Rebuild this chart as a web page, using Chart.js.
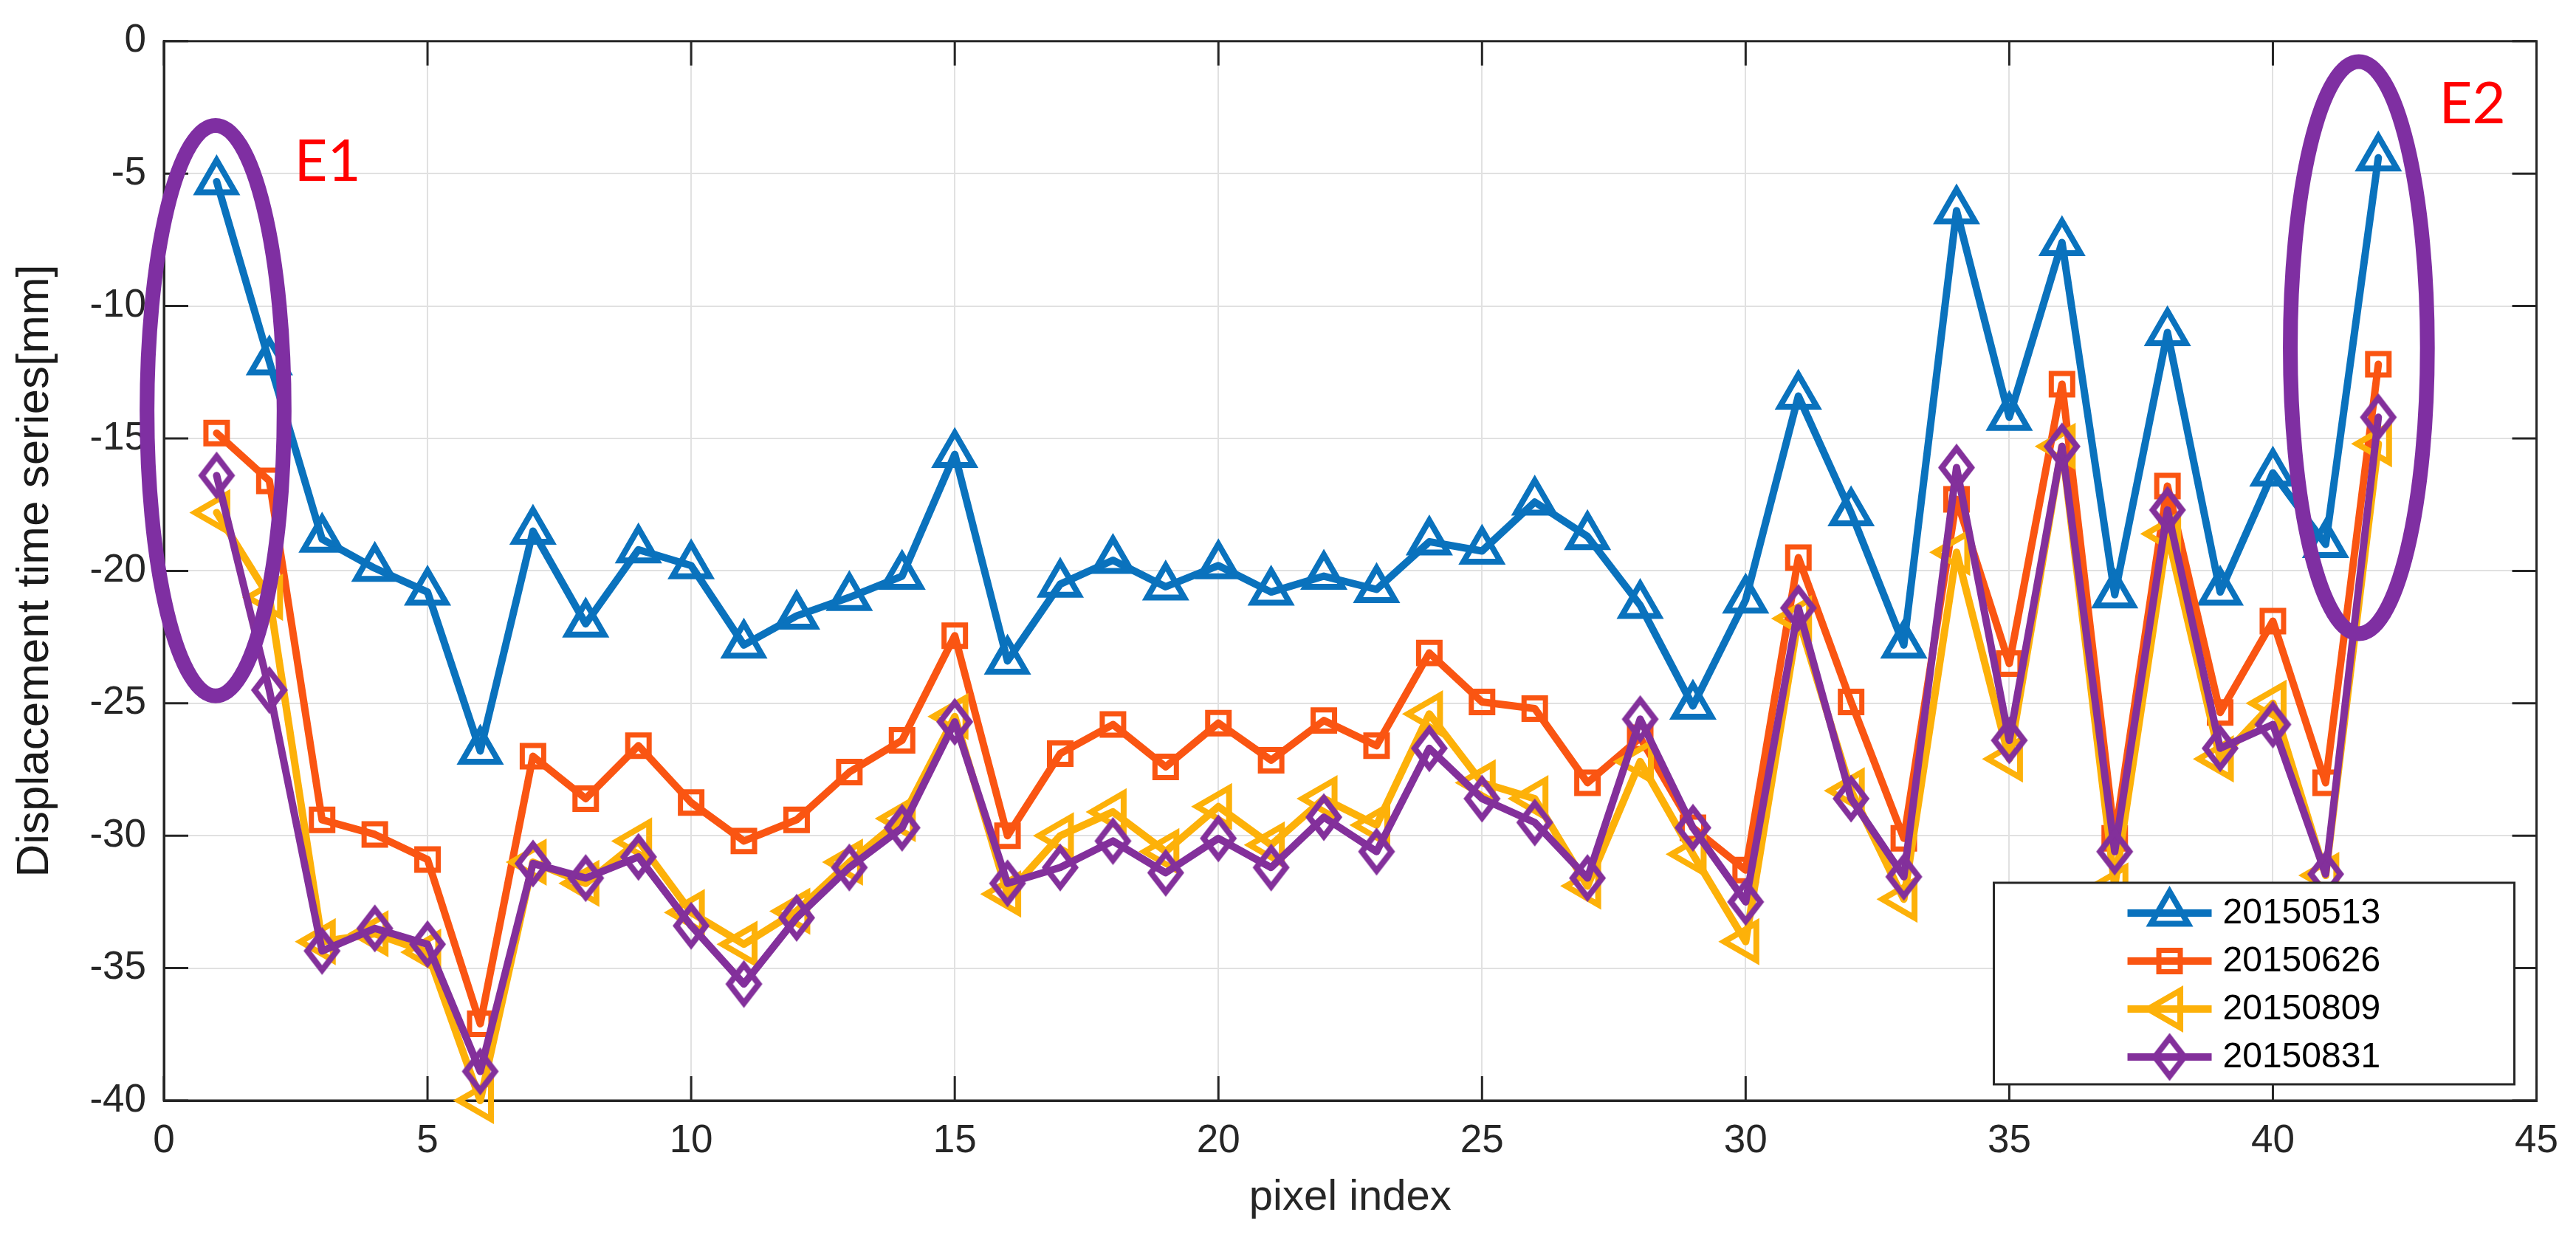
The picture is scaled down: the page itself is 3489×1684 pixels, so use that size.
<!DOCTYPE html>
<html>
<head>
<meta charset="utf-8">
<script src="https://cdn.jsdelivr.net/npm/chart.js@4.4.1/dist/chart.umd.min.js"></script>
<style>
html,body{margin:0;padding:0;background:#ffffff;overflow:hidden}
#wrap{width:3489px;height:1684px;position:relative;background:#ffffff}
</style>
</head>
<body>
<div id="wrap"><canvas id="c" width="3489" height="1684"></canvas></div>
<script>
// ---------------- data ----------------
const pixelIndex = [1,2,3,4,5,6,7,8,9,10,11,12,13,14,15,16,17,18,19,20,21,22,23,24,25,26,27,28,29,30,31,32,33,34,35,36,37,38,39,40,41,42];
const seriesNames = ['20150513','20150626','20150809','20150831'];
const s20150513 = [-5.3,-12.1,-18.8,-19.9,-20.8,-26.8,-18.5,-22.0,-19.2,-19.8,-22.8,-21.7,-21.0,-20.2,-15.6,-23.4,-20.5,-19.6,-20.6,-19.8,-20.8,-20.2,-20.7,-18.9,-19.25,-17.4,-18.7,-21.3,-25.1,-21.1,-13.4,-17.8,-22.8,-6.4,-14.2,-7.6,-20.9,-11.0,-20.8,-16.3,-19.0,-4.4];
const s20150626 = [-14.8,-16.6,-29.4,-29.95,-30.9,-37.1,-27.0,-28.6,-26.6,-28.75,-30.2,-29.4,-27.6,-26.4,-22.45,-30.0,-26.9,-25.8,-27.4,-25.75,-27.15,-25.65,-26.6,-23.1,-24.95,-25.2,-28.0,-26.3,-29.7,-31.3,-19.5,-24.95,-30.1,-17.3,-23.5,-12.95,-30.1,-16.8,-25.35,-21.9,-28.0,-12.2];
const s20150809 = [-17.8,-21.0,-34.0,-33.7,-34.4,-40.0,-31.0,-31.8,-30.2,-32.9,-34.1,-32.85,-31.0,-29.35,-25.5,-32.2,-30.0,-29.1,-30.6,-28.9,-30.35,-28.6,-29.6,-25.4,-28.0,-28.6,-31.9,-27.2,-30.7,-34.0,-21.8,-28.3,-32.4,-19.3,-27.1,-15.3,-31.9,-18.6,-27.1,-25.0,-31.5,-15.2];
const s20150831 = [-16.4,-24.5,-34.35,-33.5,-34.1,-38.9,-31.05,-31.6,-30.8,-33.4,-35.6,-33.1,-31.2,-29.7,-25.7,-31.8,-31.2,-30.2,-31.4,-30.1,-31.2,-29.3,-30.6,-26.7,-28.6,-29.5,-31.6,-25.6,-29.7,-32.5,-21.4,-28.6,-31.55,-16.1,-26.4,-15.3,-30.6,-17.7,-26.7,-25.8,-31.45,-14.2];
const xTickValues = [0,5,10,15,20,25,30,35,40,45];
const yTickValues = [0,-5,-10,-15,-20,-25,-30,-35,-40];

// ---------------- styles ----------------
const AXIS = '#262626';
const colors = ['#0a72bd', '#fa5512', '#fdb109', '#83309b'];
const ELLIPSE_COLOR = '#7f2fa2';
Chart.defaults.font.family = '"Liberation Sans", Arial, Helvetica, sans-serif';

function makeDiamond(color, hw, hh, lw) {
  const c = document.createElement('canvas');
  c.width = Math.ceil(2 * hw + 2 * lw + 4);
  c.height = Math.ceil(2 * hh + 2 * lw + 4);
  const g = c.getContext('2d');
  const cx = c.width / 2, cy = c.height / 2;
  g.strokeStyle = color; g.lineWidth = lw; g.lineJoin = 'miter';
  g.beginPath();
  g.moveTo(cx, cy - hh); g.lineTo(cx + hw, cy); g.lineTo(cx, cy + hh); g.lineTo(cx - hw, cy);
  g.closePath(); g.stroke();
  return c;
}
const diamond = makeDiamond(colors[3], 20, 26, 8);

const markerStyles = [
  {pointStyle: 'triangle', rotation: 0, radius: 29, borderWidth: 8},
  {pointStyle: 'rect', rotation: 0, radius: 20.5, borderWidth: 7},
  {pointStyle: 'triangle', rotation: -90, radius: 29, borderWidth: 8},
  {pointStyle: diamond, rotation: 0, radius: 27, borderWidth: 8}
];
const seriesValues = [s20150513, s20150626, s20150809, s20150831];

const datasets = seriesValues.map((vals, k) => ({
  label: seriesNames[k],
  data: pixelIndex.map((x, i) => ({x: x, y: vals[i]})),
  borderColor: colors[k],
  backgroundColor: 'rgba(0,0,0,0)',
  borderWidth: 10,
  borderJoinStyle: 'round',
  borderCapStyle: 'round',
  pointStyle: markerStyles[k].pointStyle,
  pointRotation: markerStyles[k].rotation,
  pointRadius: markerStyles[k].radius,
  pointHoverRadius: markerStyles[k].radius,
  pointBorderWidth: markerStyles[k].borderWidth,
  pointBorderColor: colors[k],
  pointBackgroundColor: 'rgba(0,0,0,0)',
  tension: 0,
  clip: false,
  order: 4 - k
}));

// annotations (in data coordinates)
const ellipses = [
  {cx: 0.98, cy: -13.95, rx: 1.30, ry: 10.77},
  {cx: 41.63, cy: -11.57, rx: 1.30, ry: 10.80}
];
const notes = [
  {text: 'E1', x: 2.47, y: -5.28},
  {text: 'E2', x: 43.15, y: -3.09}
];

const TICK = 33;

const decor = {
  id: 'decor',
  beforeDatasetsDraw(chart) {
    const {ctx, chartArea: a, scales: {x, y}} = chart;
    ctx.save();
    ctx.strokeStyle = AXIS;
    ctx.lineWidth = 3;
    ctx.beginPath();
    xTickValues.forEach(v => {
      const px = x.getPixelForValue(v);
      ctx.moveTo(px, a.bottom); ctx.lineTo(px, a.bottom - TICK);
      ctx.moveTo(px, a.top); ctx.lineTo(px, a.top + TICK);
    });
    yTickValues.forEach(v => {
      const py = y.getPixelForValue(v);
      ctx.moveTo(a.left, py); ctx.lineTo(a.left + TICK, py);
      ctx.moveTo(a.right, py); ctx.lineTo(a.right - TICK, py);
    });
    ctx.stroke();
    ctx.strokeRect(a.left, a.top, a.right - a.left, a.bottom - a.top);
    ctx.restore();
  },
  afterDraw(chart) {
    const {ctx, chartArea: a, scales: {x, y}} = chart;
    ctx.save();
    // legend
    const lw = 705, lh = 273;
    const lr = a.right - 30, lb = a.bottom - 22;
    const ll = lr - lw, lt = lb - lh;
    ctx.fillStyle = '#ffffff';
    ctx.fillRect(ll, lt, lw, lh);
    ctx.strokeStyle = AXIS; ctx.lineWidth = 3;
    ctx.strokeRect(ll, lt, lw, lh);
    chart.data.datasets.forEach((ds, k) => {
      const ry = lt + 41 + k * 65;
      ctx.strokeStyle = ds.borderColor;
      ctx.lineWidth = 10;
      ctx.lineCap = 'butt';
      ctx.beginPath(); ctx.moveTo(ll + 181, ry); ctx.lineTo(ll + 295, ry); ctx.stroke();
      const m = markerStyles[k];
      ctx.fillStyle = 'rgba(0,0,0,0)';
      ctx.lineWidth = m.borderWidth;
      ctx.lineJoin = 'miter';
      Chart.helpers.drawPoint(ctx, {pointStyle: m.pointStyle, rotation: m.rotation, radius: m.radius, borderWidth: m.borderWidth}, ll + 238, ry);
      ctx.fillStyle = '#000000';
      ctx.font = '48px "Liberation Sans", Arial, sans-serif';
      ctx.textAlign = 'left'; ctx.textBaseline = 'middle';
      ctx.fillText(ds.label, ll + 310, ry + 1);
    });
    // ellipses
    ctx.strokeStyle = ELLIPSE_COLOR;
    ctx.lineWidth = 20;
    ellipses.forEach(e => {
      const cx = x.getPixelForValue(e.cx), cy = y.getPixelForValue(e.cy);
      const rx = Math.abs(x.getPixelForValue(e.cx + e.rx) - cx);
      const ry = Math.abs(y.getPixelForValue(e.cy + e.ry) - cy);
      ctx.beginPath(); ctx.ellipse(cx, cy, rx, ry, 0, 0, Math.PI * 2); ctx.stroke();
    });
    // labels
    ctx.fillStyle = '#ff0000';
    ctx.font = '78px Lato, "Open Sans", sans-serif';
    ctx.textAlign = 'left'; ctx.textBaseline = 'alphabetic';
    notes.forEach(n => ctx.fillText(n.text, x.getPixelForValue(n.x), y.getPixelForValue(n.y)));
    ctx.restore();
  }
};

new Chart(document.getElementById('c').getContext('2d'), {
  type: 'line',
  data: {datasets: datasets},
  options: {
    responsive: false,
    devicePixelRatio: 1,
    animation: false,
    events: [],
    layout: {padding: {top: 42, right: 47, left: 0, bottom: 0}},
    plugins: {legend: {display: false}, tooltip: {enabled: false}},
    scales: {
      x: {
        type: 'linear', min: 0, max: 45,
        afterBuildTicks: s => { s.ticks = xTickValues.map(v => ({value: v})); },
        ticks: {stepSize: 5, padding: 24, color: AXIS, font: {size: 53}, maxRotation: 0, autoSkip: false},
        grid: {color: '#e1e1e1', lineWidth: 2, drawTicks: false},
        border: {color: AXIS, width: 3},
        title: {display: true, text: 'pixel index', color: AXIS, font: {size: 58}, padding: {top: 0, bottom: 26}},
        afterFit: s => { s.height = 193; }
      },
      y: {
        type: 'linear', min: -40, max: 0,
        afterBuildTicks: s => { s.ticks = yTickValues.slice().reverse().map(v => ({value: v})); },
        ticks: {stepSize: 5, padding: 24, color: AXIS, font: {size: 53}, autoSkip: false},
        grid: {color: '#e1e1e1', lineWidth: 2, drawTicks: false},
        border: {color: AXIS, width: 3},
        title: {display: true, text: 'Displacement time series[mm]', color: '#1a1a1a', font: {size: 62}, padding: {top: 11, bottom: 0}},
        afterFit: s => { s.width = 222; }
      }
    }
  },
  plugins: [decor]
});
</script>
</body>
</html>
